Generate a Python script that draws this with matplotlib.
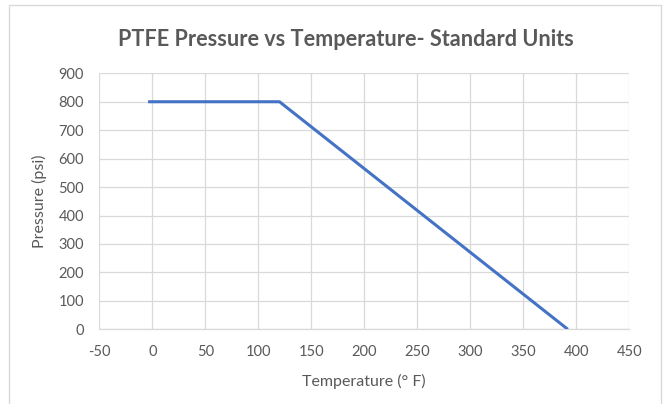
import matplotlib
matplotlib.use("Agg")
import matplotlib.pyplot as plt
from matplotlib.patches import Rectangle

temperature_f = [-4, 120, 392]
pressure_psi = [800, 800, 0]
x_ticks = [-50, 0, 50, 100, 150, 200, 250, 300, 350, 400, 450]
y_ticks = [0, 100, 200, 300, 400, 500, 600, 700, 800, 900]
title = "PTFE Pressure vs Temperature- Standard Units"
x_label = "Temperature (° F)"
y_label = "Pressure (psi)"

plt.rcParams['font.family'] = ['Lato', 'DejaVu Sans']
plt.rcParams['axes.unicode_minus'] = False
fig = plt.figure(figsize=(6.65, 4.04), dpi=100)
ax = fig.add_axes([99.3/665, 1-329.3/404, 530/665, 256/404])

ax.plot(temperature_f, pressure_psi, color="#4472C4", linewidth=2.2, solid_capstyle='butt', zorder=3)
ax.set_xlim(-50, 450)
ax.set_ylim(0, 900)
ax.set_xticks(x_ticks)
ax.set_yticks(y_ticks)
ax.grid(True, color="#D9D9D9", linewidth=0.9)
ax.set_axisbelow(True)
for s in ['top', 'right', 'left']:
    ax.spines[s].set_visible(False)
ax.spines['bottom'].set_color("#D9D9D9")
ax.spines['bottom'].set_linewidth(0.9)
ax.tick_params(length=0, labelsize=10.5, labelcolor="#595959", pad=11)
ax.set_xlabel(x_label, fontsize=11.5, color="#595959", labelpad=11)
ax.set_ylabel(y_label, fontsize=11.5, color="#595959", labelpad=8)

fig.text(0.52, 1-40/404, title, ha='center', va='center', fontsize=15.6,
         fontweight='bold', color="#595959")

fig.patches.append(Rectangle((9/665, -0.01), (661-9)/665, 1-5/404+0.01,
                             transform=fig.transFigure, fill=False,
                             edgecolor="#D9D9D9", linewidth=1))
fig.savefig("out.png", dpi=100)
